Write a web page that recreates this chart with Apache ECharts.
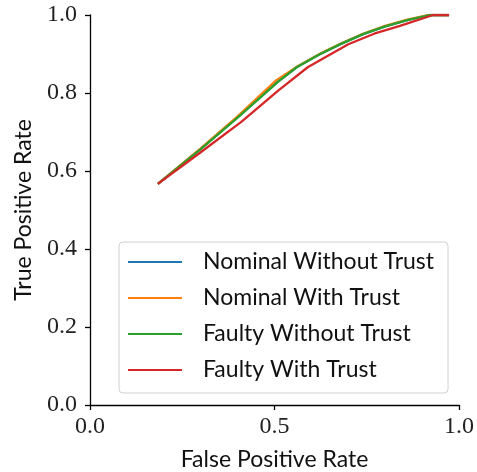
<!DOCTYPE html>
<html>
<head>
<meta charset="utf-8">
<script src="https://cdn.jsdelivr.net/npm/echarts@6/dist/echarts.min.js"></script>
<style>
  html, body { margin: 0; padding: 0; background: #fff; }
  #rocChart { width: 477px; height: 472px; }
</style>
</head>
<body>
<div id="rocChart"></div>
<script>
// ROC curve points (false positive rate / true positive rate)
const seriesNames = ['Nominal Without Trust', 'Nominal With Trust', 'Faulty Without Trust', 'Faulty With Trust'];

const nominalNoTrustFpr = [0.184, 0.30, 0.40, 0.51, 0.56, 0.62, 0.68, 0.74, 0.80, 0.86, 0.92, 0.973];
const nominalNoTrustTpr = [0.567, 0.657, 0.738, 0.830, 0.866, 0.898, 0.926, 0.951, 0.971, 0.987, 1.0, 1.0];

const nominalTrustFpr = [0.184, 0.30, 0.40, 0.505, 0.56, 0.62, 0.68, 0.74, 0.80, 0.86, 0.92, 0.973];
const nominalTrustTpr = [0.567, 0.658, 0.740, 0.833, 0.867, 0.899, 0.927, 0.952, 0.972, 0.988, 1.0, 1.0];

const faultyNoTrustFpr = [0.184, 0.30, 0.40, 0.51, 0.56, 0.62, 0.68, 0.74, 0.80, 0.86, 0.92, 0.973];
const faultyNoTrustTpr = [0.567, 0.656, 0.737, 0.829, 0.866, 0.898, 0.926, 0.951, 0.971, 0.987, 1.0, 1.0];

const faultyTrustFpr = [0.184, 0.30, 0.41, 0.51, 0.59, 0.64, 0.70, 0.77, 0.84, 0.93, 0.973];
const faultyTrustTpr = [0.567, 0.648, 0.726, 0.806, 0.866, 0.893, 0.925, 0.952, 0.972, 1.0, 1.0];

const xTicks = [0.0, 0.5, 1.0];
const yTicks = [0.0, 0.2, 0.4, 0.6, 0.8, 1.0];

const colors = ['#1f77b4', '#ff7f0e', '#2ca02c', '#d62728'];

function pairs(xs, ys) {
  return xs.map((x, i) => [x, ys[i]]);
}

const curves = [
  pairs(nominalNoTrustFpr, nominalNoTrustTpr),
  pairs(nominalTrustFpr, nominalTrustTpr),
  pairs(faultyNoTrustFpr, faultyNoTrustTpr),
  pairs(faultyTrustFpr, faultyTrustTpr)
];

const serifFont = '"Liberation Serif", "DejaVu Serif", serif';
const sansFont = 'Lato, "DejaVu Sans", sans-serif';

let myChart = echarts.init(document.getElementById('rocChart'), null, { renderer: 'canvas' });

let option = {
  animation: false,
  backgroundColor: '#fff',
  grid: { left: 90, right: 18, top: 15, bottom: 67, containLabel: false, outerBoundsMode: 'none' },
  xAxis: {
    type: 'value',
    min: 0,
    max: 1,
    interval: 0.5,
    offset: 3,
    name: 'False Positive Rate',
    nameLocation: 'middle',
    nameGap: 40,
    nameTextStyle: { fontFamily: sansFont, fontSize: 23, color: '#111' },
    axisLine: { show: true, lineStyle: { color: '#000', width: 1.3 } },
    axisTick: { show: true, inside: false, length: 5, lineStyle: { color: '#000', width: 1.3 } },
    axisLabel: {
      fontFamily: serifFont, fontSize: 24, color: '#222', margin: 7,
      formatter: v => xTicks.includes(v) ? v.toFixed(1) : ''
    },
    splitLine: { show: false }
  },
  yAxis: {
    type: 'value',
    min: 0,
    max: 1,
    interval: 0.2,
    offset: 4,
    name: 'True Positive Rate',
    nameLocation: 'middle',
    nameGap: 51,
    nameTextStyle: { fontFamily: sansFont, fontSize: 23, color: '#111' },
    axisLine: { show: true, lineStyle: { color: '#000', width: 1.3 } },
    axisTick: { show: true, inside: false, length: 5, lineStyle: { color: '#000', width: 1.3 } },
    axisLabel: {
      fontFamily: serifFont, fontSize: 24, color: '#222', margin: 9,
      formatter: v => yTicks.some(t => Math.abs(t - v) < 1e-9) ? v.toFixed(1) : ''
    },
    splitLine: { show: false }
  },
  legend: {
    orient: 'vertical',
    left: 119,
    top: 242,
    data: seriesNames,
    icon: 'rect',
    itemWidth: 54,
    itemHeight: 2,
    itemGap: 0,
    padding: [2, 14, 5, 9],
    borderColor: '#d0d0d0',
    borderWidth: 1,
    borderRadius: 4,
    backgroundColor: 'rgba(255,255,255,0.8)',
    textStyle: {
      fontFamily: sansFont, fontSize: 23, color: '#111',
      lineHeight: 36, padding: [0, 0, 0, 16]
    }
  },
  series: curves.map((data, i) => ({
    name: seriesNames[i],
    type: 'line',
    data: data,
    symbol: 'none',
    smooth: false,
    color: colors[i],
    lineStyle: { color: colors[i], width: 2.3 },
    z: 2 + i
  }))
};

option && myChart.setOption(option);
</script>
</body>
</html>
